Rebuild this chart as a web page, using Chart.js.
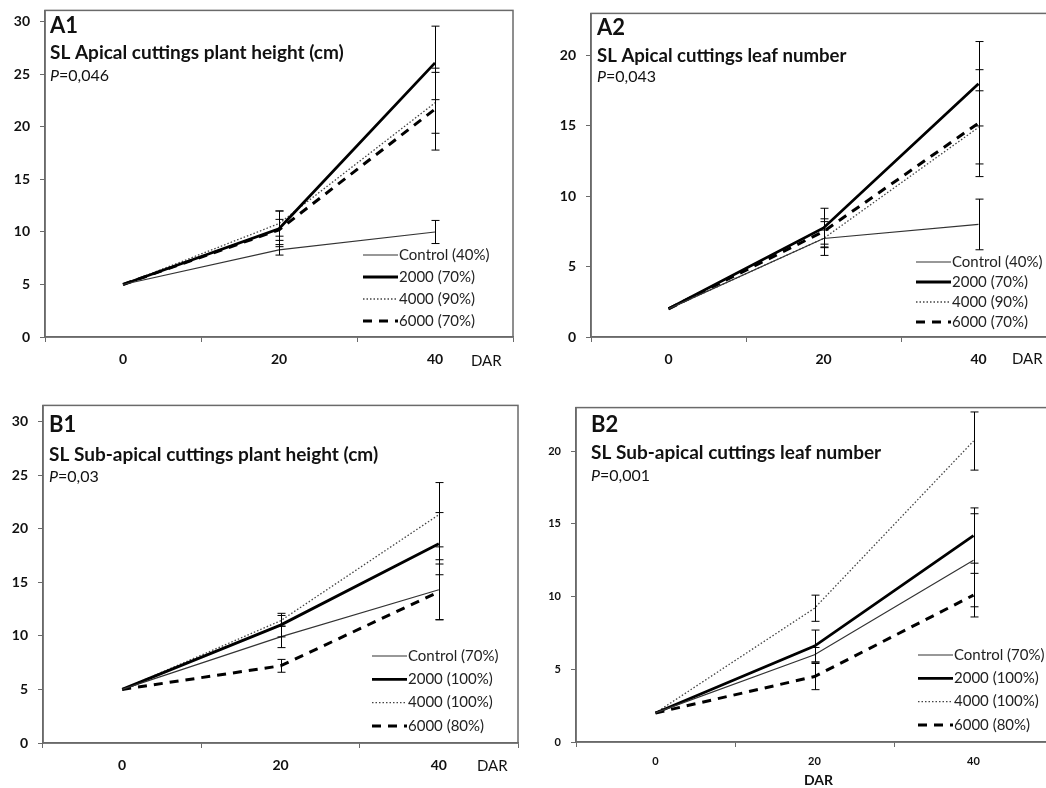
<!DOCTYPE html>
<html>
<head>
<meta charset="utf-8">
<script src="https://cdn.jsdelivr.net/npm/chart.js@4.4.0/dist/chart.umd.min.js"></script>
<style>
  html, body { margin: 0; padding: 0; background: #fff; overflow: hidden; width: 1046px; height: 788px; }
  canvas { position: absolute; }
</style>
</head>
<body>
<script>
var days = ['0', '20', '40'];

// A1 - apical cuttings, plant height
var a1Legend = ['Control (40%)', '2000 (70%)', '4000 (90%)', '6000 (70%)'];
var a1Control = [5, 8.3, 10.0];
var a1Dose2000 = [5, 10.3, 26.1];
var a1Dose4000 = [5, 10.8, 22.3];
var a1Dose6000 = [5, 10.2, 21.7];
var a1Errors = [[0, 0.5, 1.1], [0, 1.7, 3.5], [0, 1.2, 2.9], [0, 1.0, 3.9]];

// A2 - apical cuttings, leaf number
var a2Legend = ['Control (40%)', '2000 (70%)', '4000 (90%)', '6000 (70%)'];
var a2Control = [2, 7.0, 8.0];
var a2Dose2000 = [2, 7.75, 18.0];
var a2Dose4000 = [2, 7.0, 14.9];
var a2Dose6000 = [2, 7.5, 15.2];
var a2Errors = [[0, 0.6, 1.8], [0, 1.4, 3.0], [0, 1.2, 2.6], [0, 0.9, 3.8]];

// B1 - sub-apical cuttings, plant height
var b1Legend = ['Control (70%)', '2000 (100%)', '4000 (100%)', '6000 (80%)'];
var b1Control = [5, 9.9, 14.3];
var b1Dose2000 = [5, 11.0, 18.6];
var b1Dose4000 = [5, 11.4, 21.3];
var b1Dose6000 = [5, 7.2, 14.1];
var b1Errors = [[0, 1.0, 2.8], [0, 1.1, 2.9], [0, 0.5, 3.0], [0, 0.6, 2.6]];

// B2 - sub-apical cuttings, leaf number
var b2Legend = ['Control (70%)', '2000 (100%)', '4000 (100%)', '6000 (80%)'];
var b2Control = [2, 6.0, 12.5];
var b2Dose2000 = [2, 6.6, 14.2];
var b2Dose4000 = [2, 9.2, 20.7];
var b2Dose6000 = [2, 4.5, 10.1];
var b2Errors = [[0, 0.5, 3.2], [0, 1.1, 1.9], [0, 0.9, 2.0], [0, 0.9, 1.5]];

var yTicks30 = [0, 5, 10, 15, 20, 25, 30];
var yTicks20 = [0, 5, 10, 15, 20];

Chart.defaults.font.family = 'Lato, "Open Sans", sans-serif';

var frameColor = '#6a6a6a';
var lineStyles = [
  { width: 1.2, color: '#333', dash: [] },
  { width: 2.8, color: '#000', dash: [] },
  { width: 1.3, color: '#444', dash: [1.5, 2] },
  { width: 3, color: '#000', dash: [9, 7] }
];

// frame, error bars, legend and text labels
var panelDecor = {
  id: 'panelDecor',
  afterDatasetsDraw: function(chart) {
    var p = chart.options.plugins.panelDecor;
    var ctx = chart.ctx;
    var xs = chart.scales.x, ys = chart.scales.y;
    var a = chart.chartArea;

    // error bars
    ctx.save();
    ctx.strokeStyle = '#000';
    ctx.lineWidth = 1;
    p.errors.forEach(function(errs, i) {
      var vals = chart.data.datasets[i].data;
      errs.forEach(function(e, j) {
        if (!e) return;
        var x = Math.round(xs.getPixelForValue(j)) + 0.5;
        var y1 = ys.getPixelForValue(vals[j] + e);
        var y2 = ys.getPixelForValue(vals[j] - e);
        ctx.beginPath();
        ctx.moveTo(x, y1); ctx.lineTo(x, y2);
        ctx.moveTo(x - 4, y1); ctx.lineTo(x + 4, y1);
        ctx.moveTo(x - 4, y2); ctx.lineTo(x + 4, y2);
        ctx.stroke();
      });
    });
    ctx.restore();

    // plot frame
    ctx.save();
    ctx.strokeStyle = frameColor;
    ctx.lineWidth = 1.5;
    ctx.strokeRect(a.left, a.top, a.right - a.left, a.bottom - a.top);
    ctx.restore();

    var ox = p.offset[0], oy = p.offset[1];

    // legend
    ctx.save();
    p.legend.labels.forEach(function(lbl, i) {
      var st = lineStyles[i];
      var y = p.legend.y + i * p.legend.gap - oy;
      var x = p.legend.x - ox;
      ctx.strokeStyle = st.color;
      ctx.lineWidth = st.width;
      ctx.setLineDash(st.dash);
      ctx.beginPath();
      ctx.moveTo(x, y); ctx.lineTo(x + p.legend.len, y);
      ctx.stroke();
      ctx.setLineDash([]);
      ctx.fillStyle = '#222';
      ctx.font = p.legend.font;
      ctx.textBaseline = 'middle';
      ctx.textAlign = 'left';
      ctx.fillText(lbl, x + p.legend.len + 1, y);
    });
    ctx.restore();

    // texts
    ctx.save();
    ctx.fillStyle = '#111';
    ctx.textBaseline = 'alphabetic';
    p.texts.forEach(function(t) {
      var x = t.x - ox;
      ctx.textAlign = t.align || 'left';
      t.parts.forEach(function(part) {
        ctx.font = part[1];
        ctx.fillText(part[0], x, t.y - oy);
        x += ctx.measureText(part[0]).width;
      });
    });
    ctx.restore();
  }
};

function buildPanel(p) {
  var yW = 45, xH = 50, padTop = 12, padRight = 6;
  var L = p.frame[0], T = p.frame[1], R = p.frame[2], B = p.frame[3];
  var left = L - yW, top = T - padTop;
  var canvas = document.createElement('canvas');
  canvas.width = R - L + yW + padRight;
  canvas.height = B - T + padTop + xH;
  canvas.style.left = left + 'px';
  canvas.style.top = top + 'px';
  document.body.appendChild(canvas);

  var datasets = p.series.map(function(vals, i) {
    var st = lineStyles[i];
    return {
      label: p.legend[i],
      data: vals,
      borderColor: st.color,
      borderWidth: st.width,
      borderDash: st.dash,
      pointRadius: 0,
      fill: false,
      tension: 0
    };
  });

  var letterFont = 'bold 22px Lato';
  var titleFont = 'bold ' + p.titleSize + 'px Lato';

  return new Chart(canvas.getContext('2d'), {
    type: 'line',
    data: { labels: days, datasets: datasets },
    options: {
      responsive: false,
      animation: false,
      devicePixelRatio: 1,
      layout: { padding: { top: padTop, right: padRight, left: 0, bottom: 0 } },
      plugins: {
        legend: { display: false },
        tooltip: { enabled: false },
        panelDecor: {
          offset: [left, top],
          errors: p.errors,
          legend: { labels: p.legend, x: p.legendPos[0], y: p.legendPos[1], gap: p.legendPos[2], len: 35, font: '15px Lato' },
          texts: [
            { x: p.textX, y: p.textY[0], parts: [[p.letter, letterFont]] },
            { x: p.textX, y: p.textY[1], parts: [[p.title, titleFont]] },
            { x: p.textX, y: p.textY[2], parts: [['P', 'italic 16px Lato'], [p.pValue, '16px Lato']] },
            { x: p.dar[0], y: p.dar[1], align: 'left', parts: [['DAR', p.darFont]] }
          ]
        }
      },
      scales: {
        x: {
          type: 'category',
          offset: true,
          grid: { offset: true, drawOnChartArea: false, drawTicks: true, tickLength: 5, color: frameColor },
          border: { display: true, color: frameColor, width: 1.5 },
          ticks: { font: { size: p.tickSize, weight: 'bold' }, color: '#111', padding: p.xPad, maxRotation: 0 },
          afterFit: function(s) { s.height = xH; }
        },
        y: {
          min: 0,
          max: p.yMax,
          afterBuildTicks: function(s) { s.ticks = p.yTicks.map(function(v) { return { value: v }; }); },
          afterFit: function(s) { s.width = yW; },
          grid: { drawOnChartArea: false, drawTicks: true, tickLength: 5, color: frameColor },
          border: { display: true, color: frameColor, width: 1.5 },
          ticks: { font: { size: p.tickSize, weight: 'bold' }, color: '#111', padding: 10 }
        }
      }
    },
    plugins: [panelDecor]
  });
}

buildPanel({
  frame: [45, 4, 513, 337], yMax: 31.1, yTicks: yTicks30,
  series: [a1Control, a1Dose2000, a1Dose4000, a1Dose6000], errors: a1Errors,
  legend: a1Legend, legendPos: [363, 255, 22],
  letter: 'A1', title: 'SL Apical cuttings plant height (cm)', pValue: '=0,046',
  titleSize: 19, textX: 50, textY: [33, 59, 81],
  tickSize: 14, xPad: 9, dar: [471, 366], darFont: '15px Lato'
});

buildPanel({
  frame: [591, 7, 1056, 337], yMax: 23, yTicks: yTicks20,
  series: [a2Control, a2Dose2000, a2Dose4000, a2Dose6000], errors: a2Errors,
  legend: a2Legend, legendPos: [916, 262, 20],
  letter: 'A2', title: 'SL Apical cuttings leaf number', pValue: '=0,043',
  titleSize: 18.6, textX: 597, textY: [35, 62, 82],
  tickSize: 14, xPad: 9, dar: [1012, 364], darFont: '15px Lato'
});

buildPanel({
  frame: [43, 399, 518, 743], yMax: 31.5, yTicks: yTicks30,
  series: [b1Control, b1Dose2000, b1Dose4000, b1Dose6000], errors: b1Errors,
  legend: b1Legend, legendPos: [372, 656, 23.3],
  letter: 'B1', title: 'SL Sub-apical cuttings plant height (cm)', pValue: '=0,03',
  titleSize: 19, textX: 49, textY: [432, 461, 482],
  tickSize: 14, xPad: 9, dar: [477, 771], darFont: '15px Lato'
});

buildPanel({
  frame: [576, 403, 1053, 742], yMax: 23, yTicks: yTicks20,
  series: [b2Control, b2Dose2000, b2Dose4000, b2Dose6000], errors: b2Errors,
  legend: b2Legend, legendPos: [918, 655, 23.3],
  letter: 'B2', title: 'SL Sub-apical cuttings leaf number', pValue: '=0,001',
  titleSize: 19, textX: 591, textY: [432, 459, 481],
  tickSize: 11, xPad: 8, dar: [804, 785], darFont: 'bold 14px Lato'
});
</script>
</body>
</html>
